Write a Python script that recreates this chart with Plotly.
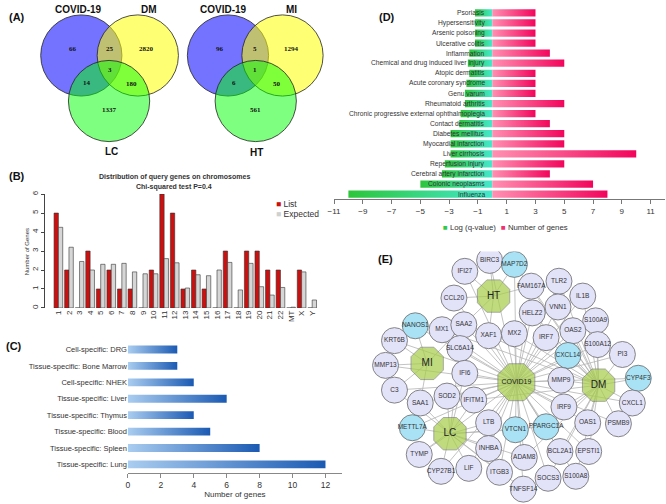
import plotly.graph_objects as go

W, H = 666, 504
def px(p): return p / W
def py(p): return 1 - p / H

# ---------------- DATA ----------------
# (A) Venn counts
venn1_sets = ["COVID-19", "DM", "LC"]
venn1_counts = {"a": 66, "ab": 25, "b": 2820, "abc": 3, "ac": 14, "bc": 180, "c": 1337}
venn2_sets = ["COVID-19", "MI", "HT"]
venn2_counts = {"a": 96, "ab": 5, "b": 1294, "abc": 1, "ac": 6, "bc": 50, "c": 561}

# (B) chromosome distribution
chromosomes = ["1", "2", "3", "4", "5", "6", "7", "8", "9", "10", "11", "12", "13", "14", "15",
               "16", "17", "18", "19", "20", "21", "22", "MT", "X", "Y"]
list_counts = [5, 2, 0, 3, 1, 2, 1, 1, 0, 2, 6, 5, 1, 2, 1, 0, 3, 0, 3, 3, 2, 2, 0, 2, 0]
expected_counts = [4.25, 3.2, 2.45, 2.0, 2.3, 2.3, 2.35, 1.9, 1.8, 1.8, 2.6, 2.38, 1.05, 1.75, 1.7,
                   2.0, 2.4, 0.95, 2.35, 1.12, 0.68, 1.08, 0.04, 1.9, 0.42]

# (C) tissue specificity
tissues = ["Cell-specific: DRG", "Tissue-specific: Bone Marrow", "Cell-specific: NHEK",
           "Tissue-specific: Liver", "Tissue-specific: Thymus", "Tissue-specific: Blood",
           "Tissue-specific: Spleen", "Tissue-specific: Lung"]
tissue_genes = [3, 3, 4, 6, 4, 5, 8, 12]

# (D) disease enrichment
diseases = ["Psoriasis", "Hypersensitivity", "Arsenic poisoning", "Ulcerative colitis", "Inflammation",
            "Chemical and drug induced liver injury", "Atopic dermatitis", "Acute coronary syndrome",
            "Genu varum", "Rheumatoid arthritis", "Chronic progressive external ophthalmoplegia",
            "Contact dermatitis", "Diabetes mellitus", "Myocardial infarction", "Liver cirrhosis",
            "Reperfusion injury", "Cerebral artery infarction", "Colonic neoplasms", "Influenza"]
log_q = [-1.2, -1.2, -1.2, -1.2, -1.6, -1.7, -1.6, -1.8, -1.9, -1.9, -2.2, -2.3, -2.9, -2.9, -2.9,
         -3.3, -3.5, -5.0, -10.0]
disease_genes = [3, 3, 3, 3, 4, 5, 3, 3, 3, 5, 3, 4, 5, 5, 10, 5, 4, 7, 8]

# (E) network
hubs = ["COVID19", "DM", "LC", "MI", "HT"]
blue_genes = ["MAP7D2", "NANOS1", "CXCL14", "CYP4F3", "METTL7A", "VTCN1", "PPARGC1A"]
hub_links = {
    "HT": ["IFI27", "BIRC3", "MAP7D2", "FAM167A", "CCL20", "XAF1", "SAA2"],
    "MI": ["NANOS1", "KRT6B", "MMP13", "C3", "SAA1", "SAA2"],
    "LC": ["METTL7A", "TYMP", "CYP27B1", "LIF", "SOD2", "LTB", "INHBA", "ITGB3", "TNFSF14", "VTCN1",
           "SLC6A14", "SAA1", "C3", "IFI6", "IFITM1", "ADAM8", "PPARGC1A"],
    "DM": ["CYP4F3", "PI3", "CXCL1", "PSMB9", "OAS1", "EPSTI1", "S100A8", "S100A9", "S100A12", "IL1B",
           "TLR2", "VNN1", "OAS2", "IRF7", "MX2", "HELZ2", "CXCL14", "MMP9", "IRF9", "BCL2A1", "SOCS3",
           "MX1", "FAM167A", "XAF1", "MAP7D2", "IFITM1", "ADAM8", "PPARGC1A"],
}

# layout of network (pixel positions)
node_pos = {
    "BIRC3": (488, 259), "MAP7D2": (513, 263), "IFI27": (463, 270), "HT": (492, 295),
    "FAM167A": (530, 285), "TLR2": (558, 280), "IL1B": (582, 295), "CCL20": (452, 297),
    "HELZ2": (531, 312), "VNN1": (557, 306), "S100A9": (595, 320), "NANOS1": (413, 325),
    "MX1": (440, 329), "SAA2": (462, 324), "XAF1": (487, 335), "MX2": (513, 333),
    "IRF7": (545, 337), "OAS2": (572, 330), "S100A12": (597, 344), "KRT6B": (392, 340),
    "SLC6A14": (458, 348), "CXCL14": (567, 355), "PI3": (622, 354), "MI": (425, 363),
    "MMP13": (383, 365), "IFI6": (463, 373), "COVID19": (515, 382), "MMP9": (560, 380),
    "DM": (598, 385), "CYP4F3": (638, 378), "C3": (392, 390), "SOD2": (445, 396),
    "IFITM1": (472, 400), "CXCL1": (632, 403), "SAA1": (418, 403), "IRF9": (563, 407),
    "PSMB9": (618, 424), "METTL7A": (410, 428), "LC": (448, 434), "LTB": (487, 423),
    "VTCN1": (514, 430), "PPARGC1A": (545, 427), "OAS1": (587, 423), "INHBA": (487, 449),
    "ADAM8": (523, 458), "BCL2A1": (559, 452), "EPSTI1": (588, 452), "TYMP": (417, 455),
    "CYP27B1": (439, 472), "LIF": (467, 469), "ITGB3": (498, 473), "SOCS3": (547, 479),
    "S100A8": (575, 477), "TNFSF14": (522, 490),
}

ARIAL = "Liberation Sans, Arial, sans-serif"

fig = go.Figure()
shapes = []
annotations = []

def label(text, x, y, size=11, bold=True, color="#111", xanchor="center", font=ARIAL, angle=0):
    t = f"<b>{text}</b>" if bold else text
    annotations.append(dict(text=t, x=px(x), y=py(y), xref="paper", yref="paper", showarrow=False,
                            xanchor=xanchor, yanchor="middle", textangle=angle,
                            font=dict(size=size, color=color, family=font)))

# ---------------- (A) Venn ----------------
def venn(cx_a, cx_b, cx_c, cy_top, cy_bot, r, names, counts, name_pos):
    fills = ["rgba(0,0,255,0.55)", "rgba(255,255,0,0.55)", "rgba(0,255,0,0.5)"]
    centers = [(cx_a, cy_top), (cx_b, cy_top), (cx_c, cy_bot)]
    for (cx, cy), f in zip(centers, fills):
        shapes.append(dict(type="circle", xref="paper", yref="paper",
                           x0=px(cx - r), x1=px(cx + r), y0=py(cy + r), y1=py(cy - r),
                           fillcolor=f, line=dict(color="#222", width=0.8), layer="above"))
    reg = {"a": (cx_a - 8, 45), "ab": ((cx_a + cx_b) / 2, 45), "b": (cx_b + 9, 45),
           "abc": ((cx_a + cx_b) / 2, 67), "ac": (cx_a + 6, 80), "bc": (cx_b - 6, 81),
           "c": (cx_c, 107)}
    for k, (x, y) in reg.items():
        label(str(counts[k]), x, y, size=7, bold=True, font="Liberation Serif, Times New Roman, serif")
    for n, (x, y) in zip(names, name_pos):
        label(n, x, y, size=10, bold=True)

venn(76, 133, 104, 52, 98, 41, venn1_sets, venn1_counts, [(73, 6), (144, 6), (106, 149)])
venn(224, 279, 252, 52, 98, 41, venn2_sets, venn2_counts, [(219, 6), (288, 6), (253, 150)])

# ---------------- (B) chromosome bars ----------------
fig.add_trace(go.Bar(x=chromosomes, y=list_counts, marker=dict(color="#cc1010", line=dict(color="#333", width=0.6)),
                     xaxis="x", yaxis="y", showlegend=False))
fig.add_trace(go.Bar(x=chromosomes, y=expected_counts, marker=dict(color="#d6d6d6", line=dict(color="#333", width=0.6)),
                     xaxis="x", yaxis="y", showlegend=False))

# ---------------- (C) tissue gradient bars ----------------
hh = 0.24
for i, (t, v) in enumerate(zip(tissues, tissue_genes)):
    fig.add_trace(go.Scatter(x=[0, v, v, 0, 0], y=[i - hh, i - hh, i + hh, i + hh, i - hh],
                             mode="lines", line=dict(width=0), fill="toself",
                             fillgradient=dict(type="horizontal",
                                               colorscale=[[0, "#aacdf0"], [1, "#1b5ab3"]]),
                             xaxis="x2", yaxis="y2", showlegend=False, hoverinfo="skip"))

# ---------------- (D) disease gradient bars ----------------
hd = 0.36
for i, (q, g) in enumerate(zip(log_q, disease_genes)):
    fig.add_trace(go.Scatter(x=[q, 0, 0, q, q], y=[i - hd, i - hd, i + hd, i + hd, i - hd],
                             mode="lines", line=dict(width=0), fill="toself",
                             fillgradient=dict(type="horizontal",
                                               colorscale=[[0, "#2cc53a"], [1, "#44e8cc"]]),
                             xaxis="x3", yaxis="y3", showlegend=False, hoverinfo="skip"))
    fig.add_trace(go.Scatter(x=[0, g, g, 0, 0], y=[i - hd, i - hd, i + hd, i + hd, i - hd],
                             mode="lines", line=dict(width=0), fill="toself",
                             fillgradient=dict(type="horizontal",
                                               colorscale=[[0, "#ff90b2"], [1, "#f2055c"]]),
                             xaxis="x3", yaxis="y3", showlegend=False, hoverinfo="skip"))
    annotations.append(dict(text=diseases[i], x=-0.35, y=i, xref="x3", yref="y3", showarrow=False,
                            xanchor="right", yanchor="middle",
                            font=dict(size=6.7, color="#333", family=ARIAL)))

# ---------------- (E) network ----------------
ex, ey = [], []
for hub, genes in hub_links.items():
    for gname in genes:
        x0, y0 = node_pos[hub]; x1, y1 = node_pos[gname]
        ex += [x0, x1, None]; ey += [y0, y1, None]
for gname in node_pos:
    if gname in hubs:
        continue
    x0, y0 = node_pos["COVID19"]; x1, y1 = node_pos[gname]
    ex += [x0, x1, None]; ey += [y0, y1, None]
fig.add_trace(go.Scatter(x=ex, y=ey, mode="lines", line=dict(color="#b4b4b4", width=0.8),
                         xaxis="x4", yaxis="y4", showlegend=False, hoverinfo="skip"))

genes = [n for n in node_pos if n not in hubs]
fig.add_trace(go.Scatter(
    x=[node_pos[n][0] for n in genes], y=[node_pos[n][1] for n in genes],
    mode="markers+text", text=genes, textposition="middle center",
    textfont=dict(size=6.5, color="#333", family=ARIAL),
    marker=dict(size=26, color=["#a8e2f4" if n in blue_genes else "#e2e2f8" for n in genes],
                line=dict(color="#6a6a6a", width=0.8)),
    xaxis="x4", yaxis="y4", showlegend=False))
fig.add_trace(go.Scatter(
    x=[node_pos[n][0] for n in hubs], y=[node_pos[n][1] for n in hubs],
    mode="markers+text", text=hubs, textposition="middle center",
    textfont=dict(size=[7, 10, 10, 10, 10], color="#222", family=ARIAL),
    marker=dict(symbol="octagon", size=[40, 35, 35, 35, 35], color="#a5cd48",
                line=dict(color="#6a6a6a", width=0.8)),
    xaxis="x4", yaxis="y4", showlegend=False))

# ---------------- panel labels & misc text ----------------
label("(A)", 11, 13, size=11)
label("(B)", 11, 174, size=11)
label("(C)", 8, 345, size=11)
label("(D)", 384, 13, size=11)
label("(E)", 383, 258, size=11)

label("Distribution of query genes on chromosomes", 170, 175, size=7, bold=True, color="#333")
label("Chi-squared test P=0.4", 170, 184.5, size=7, bold=True, color="#333")
label("Number of Genes", 21, 250, size=6, bold=False, color="#333", angle=-90)
label('<span style="color:#cc1010">■</span> List', 270, 202, size=8.5, bold=False, color="#333", xanchor="left")
label('<span style="color:#d0d0d0">■</span> Expected', 270, 212, size=8.5, bold=False, color="#333", xanchor="left")

label('<span style="color:#33c84a">■</span> Log (q-value)', 439, 226, size=7.8, bold=False, color="#333",
      xanchor="left")
label('<span style="color:#f0306e">■</span> Number of genes', 497, 226, size=7.8, bold=False, color="#333",
      xanchor="left")

fig.update_layout(
    width=W, height=H, margin=dict(l=0, r=0, t=0, b=0),
    paper_bgcolor="white", plot_bgcolor="rgba(0,0,0,0)",
    barmode="group", bargap=0.18, bargroupgap=0,
    shapes=shapes, annotations=annotations,
    xaxis=dict(domain=[px(39), px(314.3)], range=[-1.3, 24.5], type="category",
               tickangle=-90, tickfont=dict(size=8, color="#333", family=ARIAL),
               ticks="", showgrid=False, zeroline=False, showline=False, anchor="y"),
    yaxis=dict(domain=[py(307), py(192)], range=[0, 6], tickvals=[0, 1, 2, 3, 4, 5, 6],
               tickangle=-90, tickfont=dict(size=8, color="#333", family=ARIAL),
               ticks="outside", ticklen=3, tickcolor="#444", showline=True, linecolor="#444",
               linewidth=0.8, showgrid=False, zeroline=False, anchor="x"),
    xaxis2=dict(domain=[px(123), px(339)], range=[0, 13], tickvals=[0, 2, 4, 6, 8, 10, 12],
                tickfont=dict(size=8.5, color="#333", family=ARIAL), ticks="outside", ticklen=4,
                tickcolor="#888", showline=True, linecolor="#888", showgrid=False, zeroline=False,
                title=dict(text="Number of genes", font=dict(size=8, color="#333", family=ARIAL), standoff=2),
                anchor="y2"),
    yaxis2=dict(domain=[py(473.3), py(340.7)], range=[7.5, -0.5], tickvals=list(range(len(tissues))),
                ticktext=tissues, tickfont=dict(size=7.5, color="#333", family=ARIAL), ticks="",
                showline=False, showgrid=False, zeroline=False, anchor="x2"),
    xaxis3=dict(domain=[px(331), px(665)], range=[-11, 12], tickvals=list(range(-11, 12, 2)),
                tickfont=dict(size=8, color="#333", family=ARIAL), ticks="outside", ticklen=4,
                tickcolor="#777", showline=True, linecolor="#777", showgrid=False, zeroline=False,
                anchor="y3"),
    yaxis3=dict(domain=[py(197.1), py(3.9)], range=[18.5, -0.5], visible=False, anchor="x3"),
    xaxis4=dict(domain=[px(345), 1], range=[345, 666], visible=False, anchor="y4"),
    yaxis4=dict(domain=[0, py(250)], range=[504, 250], visible=False, anchor="x4"),
)

fig.write_html("out.html", config={"displayModeBar": False},
               post_script="document.body.style.margin='0px';document.body.style.padding='0px';")
